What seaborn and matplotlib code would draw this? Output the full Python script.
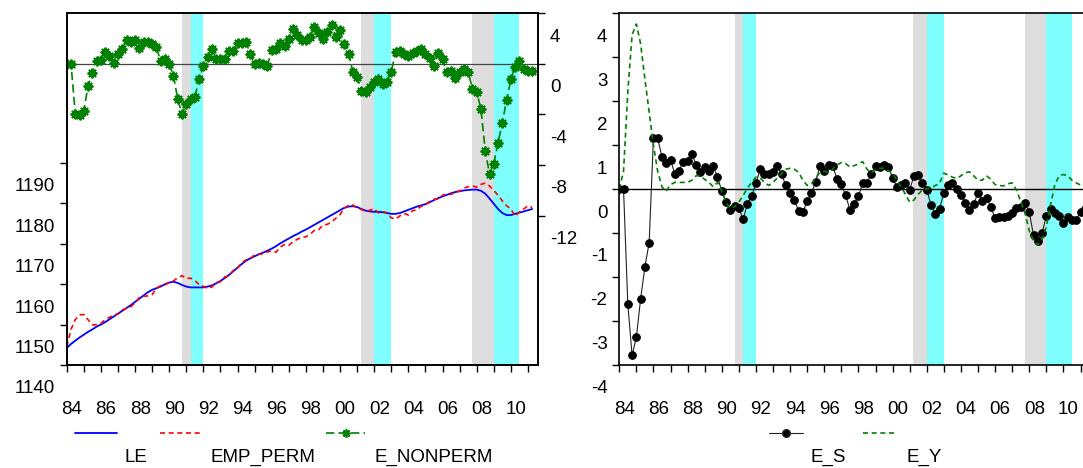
import numpy as np
import matplotlib
matplotlib.use('Agg')
import matplotlib.pyplot as plt
import matplotlib.transforms as mtransforms
from matplotlib.lines import Line2D
import seaborn as sns

# quarterly sample 1984Q1 .. 2011Q2
quarters = 1984 + np.arange(110) / 4

LE = [1144.2, 1145.2, 1146.0, 1146.8, 1147.5, 1148.2, 1148.8, 1149.5,
      1150.0, 1150.6, 1151.3, 1152.0, 1152.7, 1153.4, 1154.1, 1154.8,
      1155.6, 1156.4, 1157.2, 1158.0, 1158.6, 1159.0, 1159.4, 1160.0,
      1160.4, 1160.6, 1160.3, 1159.8, 1159.4, 1159.2, 1159.2, 1159.2,
      1159.2, 1159.4, 1159.7, 1160.2, 1160.8, 1161.5, 1162.3, 1163.2,
      1164.1, 1165.0, 1165.8, 1166.4, 1166.9, 1167.4, 1167.8, 1168.3,
      1168.8, 1169.4, 1170.1, 1170.7, 1171.3, 1171.9, 1172.4, 1173.0,
      1173.5, 1174.1, 1174.7, 1175.3, 1175.9, 1176.5, 1177.1, 1177.7,
      1178.3, 1178.9, 1179.2, 1179.3, 1179.1, 1178.6, 1178.2, 1178.0,
      1177.9, 1177.9, 1177.8, 1177.6, 1177.4, 1177.4, 1177.6, 1178.0,
      1178.4, 1178.8, 1179.2, 1179.5, 1179.8, 1180.3, 1180.8, 1181.3,
      1181.7, 1182.1, 1182.5, 1182.8, 1183.0, 1183.2, 1183.3, 1183.4,
      1183.4, 1183.1, 1182.4, 1181.2, 1179.9, 1178.6, 1177.6, 1177.1,
      1177.1, 1177.4, 1177.7, 1178.0, 1178.3, 1178.6]

EMP_PERM = [1144.6, 1148.8, 1151.2, 1152.4, 1152.5, 1151.2, 1149.9, 1150.0,
            1150.3, 1151.2, 1151.8, 1152.4, 1152.6, 1153.6, 1154.0, 1154.4,
            1155.4, 1156.7, 1157.0, 1157.1, 1157.4, 1159.0, 1159.6, 1159.8,
            1160.5, 1160.8, 1161.6, 1162.1, 1161.4, 1161.5, 1160.9, 1159.9,
            1159.5, 1158.9, 1159.3, 1160.4, 1160.6, 1161.8, 1162.0, 1163.4,
            1164.0, 1165.3, 1166.0, 1166.3, 1167.3, 1167.4, 1167.5, 1168.0,
            1168.2, 1167.9, 1169.2, 1169.8, 1169.6, 1170.5, 1171.1, 1171.6,
            1171.7, 1172.4, 1173.3, 1173.5, 1174.6, 1174.8, 1175.4, 1176.3,
            1177.2, 1178.8, 1179.5, 1179.6, 1178.8, 1178.5, 1178.0, 1178.3,
            1178.7, 1177.6, 1177.9, 1177.7, 1176.4, 1176.1, 1176.9, 1177.5,
            1177.1, 1178.2, 1178.4, 1179.3, 1179.6, 1180.5, 1181.0, 1181.1,
            1182.0, 1182.3, 1182.2, 1182.9, 1183.0, 1183.8, 1184.1, 1184.3,
            1184.0, 1184.7, 1185.0, 1184.3, 1183.2, 1182.0, 1180.6, 1179.4,
            1178.6, 1176.8, 1177.9, 1178.6, 1179.4, 1179.0]

E_NONPERM = [0.0, 0.0, -3.94, -4.07, -3.73, -1.75, -0.77, 0.18,
             0.29, 0.9, 0.63, 0.02, 0.77, 1.17, 1.83, 1.69,
             1.9, 1.21, 1.69, 1.69, 1.56, 1.29, 0.18, 0.37,
             -0.03, -0.95, -2.8, -3.99, -3.2, -2.8, -2.67, -1.21,
             -0.16, 0.56, 1.17, 0.37, 0.37, 0.37, 1.03, 1.03,
             1.64, 1.64, 1.69, 0.77, -0.03, 0.02, -0.03, -0.16,
             1.08, 1.17, 1.61, 1.43, 1.96, 2.75, 2.27, 1.83,
             1.88, 2.14, 2.88, 2.43, 1.96, 2.49, 3.07, 2.14,
             2.67, 1.56, 0.77, -0.63, -1.03, -2.14, -2.22, -1.83,
             -1.48, -1.21, -1.61, -1.43, -0.63, 0.9, 1.03, 0.77,
             0.63, 0.82, 0.98, 1.17, 0.77, 0.42, -0.16, 0.82,
             0.37, -0.69, -0.61, -1.14, -0.69, -0.42, -0.63, -2.0,
             -2.2, -3.6, -6.9, -8.7, -7.9, -6.25, -4.66, -2.88,
             -1.21, -0.29, 0.24, -0.42, -0.61, -0.56]

E_S = [0.0, 0.0, -2.61, -3.78, -3.37, -2.5, -1.77, -1.22,
       1.15, 1.15, 0.73, 0.58, 0.67, 0.34, 0.42, 0.62,
       0.64, 0.8, 0.55, 0.39, 0.51, 0.41, 0.53, 0.27,
       -0.04, -0.29, -0.48, -0.38, -0.44, -0.69, -0.34, -0.16,
       0.13, 0.45, 0.34, 0.34, 0.39, 0.52, 0.34, 0.08,
       -0.08, -0.25, -0.5, -0.53, -0.27, -0.1, 0.17, 0.52,
       0.42, 0.55, 0.52, 0.22, 0.11, -0.14, -0.47, -0.33,
       -0.17, 0.14, 0.14, 0.33, 0.52, 0.5, 0.55, 0.51,
       0.25, 0.05, 0.1, 0.13, -0.02, 0.3, 0.32, 0.14,
       -0.02, -0.36, -0.57, -0.45, -0.08, 0.09, 0.13, -0.01,
       -0.14, -0.31, -0.48, -0.33, -0.1, -0.27, -0.21, -0.4,
       -0.67, -0.64, -0.64, -0.61, -0.55, -0.44, -0.42, -0.31,
       -0.53, -1.05, -1.18, -1.01, -0.61, -0.46, -0.55, -0.61,
       -0.78, -0.64, -0.7, -0.7, -0.52, -0.45]

E_Y = [0.0, 0.4, 2.2, 3.5, 3.75, 3.3, 2.5, 1.75,
       1.0, 0.4, 0.05, -0.05, 0.1, 0.15, 0.15, 0.15,
       0.15, 0.2, 0.3, 0.3, 0.22, 0.15, 0.05, 0.15,
       -0.05, -0.3, -0.45, -0.4, -0.3, -0.15, 0.02, 0.15,
       0.27, 0.25, 0.15, 0.08, 0.15, 0.25, 0.35, 0.45,
       0.47, 0.45, 0.38, 0.2, 0.08, 0.12, 0.25, 0.38,
       0.4, 0.38, 0.45, 0.55, 0.6, 0.58, 0.5, 0.53,
       0.57, 0.62, 0.45, 0.36, 0.45, 0.47, 0.47, 0.42,
       0.36, 0.2, 0.05, -0.12, -0.3, -0.25, -0.12, -0.02,
       0.0, 0.02, 0.08, 0.13, 0.36, 0.32, 0.27, 0.24,
       0.3, 0.37, 0.39, 0.3, 0.2, 0.2, 0.3, 0.22,
       0.1, 0.08, 0.07, 0.12, 0.14, -0.02, -0.28, -0.55,
       -0.95, -1.18, -1.27, -1.15, -0.86, -0.35, 0.1, 0.3,
       0.33, 0.3, 0.2, 0.14, 0.09, 0.05]

# shaded periods
gray_bands = [(1990.75, 1991.25), (2001.2, 2002.0), (2007.75, 2009.0)]
cyan_bands = [(1991.25, 1992.0), (2002.0, 2003.0), (2009.0, 2010.5)]

left_ticks = [1140, 1150, 1160, 1170, 1180, 1190]
right_ticks = [4, 0, -4, -8, -12]
es_ticks = [-4, -3, -2, -1, 0, 1, 2, 3, 4]
year_labels = ['84', '86', '88', '90', '92', '94', '96', '98', '00', '02', '04', '06', '08', '10']

sns.set_style('ticks')
plt.rcParams['font.family'] = ['Liberation Sans', 'DejaVu Sans']
plt.rcParams['font.size'] = 13.5
plt.rcParams['text.color'] = 'black'
plt.rcParams['axes.edgecolor'] = 'black'
plt.rcParams['axes.linewidth'] = 1.2
plt.rcParams['xtick.color'] = 'black'
plt.rcParams['ytick.color'] = 'black'
plt.rcParams['xtick.labelcolor'] = 'black'
plt.rcParams['ytick.labelcolor'] = 'black'

fig = plt.figure(figsize=(10.83, 4.68), dpi=100)
ax = fig.add_axes([0.0616, 0.2201, 0.4352, 0.7521])
axr = fig.add_axes([0.5718, 0.2201, 0.4352, 0.7521])

xlim = (1984, 2011.59)
# EViews-style output: every label sits about 22 px below its tick
text_shift = mtransforms.ScaledTranslation(0, -0.22, fig.dpi_scale_trans)
star = (8, 2, 0)  # asterisk marker


def shade(a):
    for lo, hi in gray_bands:
        a.axvspan(lo, hi, color='#DDDDDD', lw=0, zorder=0)
    for lo, hi in cyan_bands:
        a.axvspan(lo, hi, color='#80FFFF', lw=0, zorder=0)


def year_axis(a):
    a.set_xlim(*xlim)
    a.set_xticks(range(1984, 2012))
    a.set_xticklabels([])
    a.set_xticks([1984.3 + 2 * k for k in range(len(year_labels))], minor=True)
    a.set_xticklabels(year_labels, minor=True)
    a.tick_params(axis='x', which='major', direction='out', length=5, width=1)
    a.tick_params(axis='x', which='minor', length=0, pad=26, labelsize=13.5)


# ---- left panel ----
shade(ax)
sns.lineplot(x=quarters, y=LE, ax=ax, color='#0000FF', lw=1.3)
sns.lineplot(x=quarters, y=EMP_PERM, ax=ax, color='#FF0000', lw=1.2,
             linestyle=(0, (3, 2.2)))
ax.set_ylim(1140, 1227.1)
ax.set_yticks(left_ticks)
ax.set_yticklabels([str(v) for v in left_ticks])
ax.tick_params(axis='y', direction='out', length=5, width=1, labelsize=13.5)
year_axis(ax)

ax2 = ax.twinx()
ax2.axhline(0, color='#444444', lw=0.9, zorder=1)
sns.lineplot(x=quarters, y=E_NONPERM, ax=ax2, color='#008000', lw=1.2,
             linestyle=(0, (5, 2.5)), marker=star, markersize=7,
             markeredgecolor='#008000', markeredgewidth=1.4)
ax2.set_ylim(-23.8, 4.0)
ax2.set_yticks(right_ticks)
ax2.set_yticklabels([str(v) for v in right_ticks])
ax2.tick_params(axis='y', direction='out', length=5, width=1, labelsize=13.5)
ax2.set_xlim(*xlim)

# ---- right panel ----
shade(axr)
axr.axhline(0, color='black', lw=1.0, zorder=1)
sns.lineplot(x=quarters, y=E_S, ax=axr, color='#222222', lw=0.8,
             marker='o', markersize=5.5, markerfacecolor='black',
             markeredgecolor='black')
sns.lineplot(x=quarters, y=E_Y, ax=axr, color='#008000', lw=1.2,
             linestyle=(0, (3, 2.2)))
axr.set_ylim(-4, 4)
axr.set_yticks(es_ticks)
axr.set_yticklabels([str(v) for v in es_ticks])
axr.tick_params(axis='y', direction='out', length=5, width=1, labelsize=13.5)
year_axis(axr)

for a in (ax, ax2, axr):
    a.set_xlabel('')
    a.set_ylabel('')
    a.grid(False)
    for lab in a.get_yticklabels():
        lab.set_transform(lab.get_transform() + text_shift)

# ---- legends (EViews style: key above, name below right) ----
W, H = 1083.0, 468.0
key_y = 1 - 433 / H
name_y = 1 - 457 / H
keys = [
    ((75, 117), dict(color='#0000FF', lw=1.3), 'LE', 124),
    ((160, 203), dict(color='#FF0000', lw=1.2, ls=(0, (3, 2.2))), 'EMP_PERM', 210),
    ((326, 365), dict(color='#008000', lw=1.2, ls=(0, (5, 2.5)), marker=star,
                      markersize=6, markeredgewidth=1.2, markevery=[1]), 'E_NONPERM', 375),
    ((769, 803), dict(color='#222222', lw=0.8, marker='o', markersize=5.5,
                      markerfacecolor='black', markevery=[1]), 'E_S', 811),
    ((863, 896), dict(color='#008000', lw=1.2, ls=(0, (3, 2.2))), 'E_Y', 906),
]
for (x0, x1), style, name, tx in keys:
    xs = [x0 / W, (x0 + x1) / 2 / W, x1 / W]
    fig.add_artist(Line2D(xs, [key_y] * 3, transform=fig.transFigure, **style))
    fig.text(tx / W, name_y, name, ha='left', va='center', fontsize=13.5)

fig.savefig('out.png', dpi=100)
